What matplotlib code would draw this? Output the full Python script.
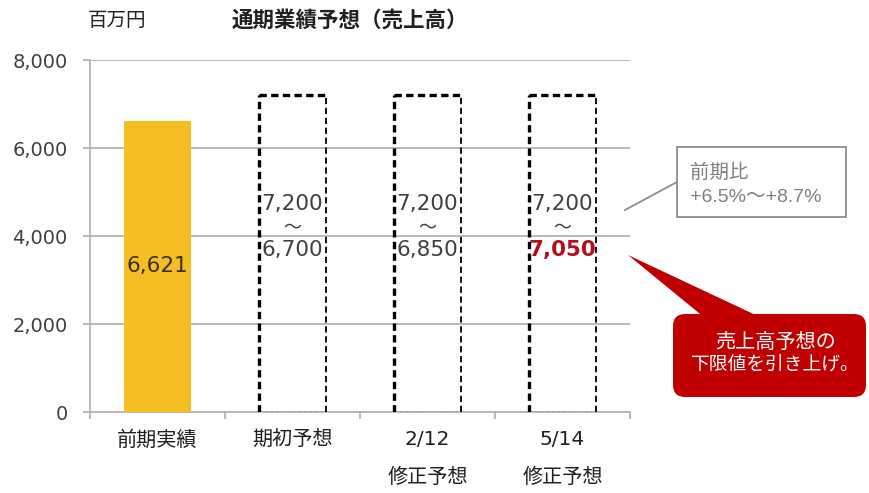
import matplotlib
matplotlib.use("Agg")
import matplotlib.pyplot as plt
from matplotlib.patches import FancyBboxPatch, Polygon, Rectangle
from matplotlib.lines import Line2D

plt.rcParams['font.family'] = ['DejaVu Sans', 'Noto Sans CJK JP']

# Data
categories = ["前期実績", "期初予想", "2/12\n修正予想", "5/14\n修正予想"]
actual_prev = 6621
forecast_upper = [7200, 7200, 7200]
forecast_lower = [6700, 6850, 7050]
yticks = [0, 2000, 4000, 6000, 8000]

W, H = 870, 493
fig = plt.figure(figsize=(W / 100, H / 100), dpi=100)

def fx(px):
    return px / W

def fy(py):
    return 1 - py / H

ax = fig.add_axes([fx(90), fy(412), fx(630) - fx(90), fy(60) - fy(412)])
ax.set_xlim(-0.5, 3.5)
ax.set_ylim(0, 8000)

grid_c = '#b4b4b4'
ax.set_yticks(yticks)
ax.set_yticklabels([f"{v:,}" for v in yticks], fontsize=14, color='#404040')
ax.yaxis.grid(True, color=grid_c, linewidth=1.3)
ax.set_axisbelow(True)
ax.tick_params(axis='y', length=5, color=grid_c, width=1.3, pad=11)
ax.set_xticks([0, 1, 2, 3])
ax.set_xticklabels(categories, fontsize=14.5, color='#202020', linespacing=2.2,
                   family=['DejaVu Sans', 'Noto Sans CJK JP'])
ax.set_xticks([-0.5, 0.5, 1.5, 2.5, 3.5], minor=True)
ax.tick_params(axis='x', which='major', length=0, pad=13)
ax.tick_params(axis='x', which='minor', length=5, color=grid_c, width=1.3)
for s in ['top', 'right']:
    ax.spines[s].set_visible(False)
for s in ['left', 'bottom']:
    ax.spines[s].set_color(grid_c)
    ax.spines[s].set_linewidth(1.3)

# Previous-year actual
ax.bar(0, actual_prev, width=0.5, color='#F4BD22', zorder=3)
ax.text(0, actual_prev * 0.5, f"{actual_prev:,}", ha='center', va='center',
        fontsize=15.5, color='#3a3020', zorder=4)

# Forecast ranges as dashed boxes
half = 0.25
for i, (hi, lo) in enumerate(zip(forecast_upper, forecast_lower)):
    xc = i + 1
    bold_dash = dict(color='black', linewidth=2.4, linestyle=(0, (2.2, 1.3)),
                     zorder=3, solid_capstyle='butt')
    thin_dash = dict(color='black', linewidth=1.3, linestyle=(0, (3.5, 2.0)),
                     zorder=3)
    ax.plot([xc - half, xc - half], [0, hi], **bold_dash)
    ax.plot([xc - half, xc + half], [hi, hi], **bold_dash)
    ax.plot([xc + half, xc + half], [0, hi], **thin_dash)
    ax.plot([xc - half, xc + half], [0, 0], color='#555555', linewidth=1.0,
            linestyle=(0, (2, 2)), zorder=3)
    ax.text(xc, 4720, f"{hi:,}", ha='center', va='center', fontsize=15.5,
            color='#404040', zorder=4)
    ax.text(xc, 4200, "～", ha='center', va='center', fontsize=13,
            color='#404040', family=['Noto Sans CJK JP'], zorder=4)
    last = i == len(forecast_lower) - 1
    ax.text(xc, 3680, f"{lo:,}", ha='center', va='center', fontsize=15.5,
            color='#B0101C' if last else '#404040',
            fontweight='bold' if last else 'normal', zorder=4)

# Header texts
fig.text(fx(88), fy(20), "百万円", fontsize=14, va='center', ha='left',
         family=['Noto Sans CJK JP'], color='#202020')
fig.text(fx(232), fy(20), "通期業績予想（売上高）", fontsize=15.5, va='center',
         ha='left', fontweight='bold', family=['Noto Sans CJK JP'], color='#202020')

# Year-on-year callout (grey)
fig.add_artist(Line2D([fx(625), fx(677)], [fy(210), fy(182)], color='#8c8c8c',
                      linewidth=1.3))
fig.add_artist(Rectangle((fx(677), fy(217)), fx(846) - fx(677), fy(147) - fy(217),
                         facecolor='white', edgecolor='#8c8c8c', linewidth=1.3))
fig.text(fx(690), fy(172), "前期比", fontsize=14, color='#7f7f7f', va='center',
         family=['Noto Sans CJK JP'])
fig.text(fx(690), fy(197), "+6.5%～+8.7%", fontsize=14, color='#7f7f7f',
         va='center', family=['Liberation Sans', 'Noto Sans CJK JP'])

# Red callout
red = '#C00000'
fig.add_artist(Polygon([[fx(628), fy(255)], [fx(705), fy(318)], [fx(762), fy(318)]],
                       closed=True, facecolor=red, edgecolor='none'))
fig.add_artist(FancyBboxPatch((fx(673), fy(397)), fx(866) - fx(673), fy(314) - fy(397),
                              boxstyle="round,pad=0,rounding_size=0.014",
                              facecolor=red, edgecolor='none',
                              mutation_aspect=W / H))
fig.text(fx(775), fy(342), "売上高予想の", fontsize=14.5, color='white',
         ha='center', va='center', family=['Noto Sans CJK JP'])
fig.text(fx(775), fy(364), "下限値を引き上げ。", fontsize=13.5, color='white',
         ha='center', va='center', family=['Noto Sans CJK JP'])

fig.savefig("out.png", dpi=100)
